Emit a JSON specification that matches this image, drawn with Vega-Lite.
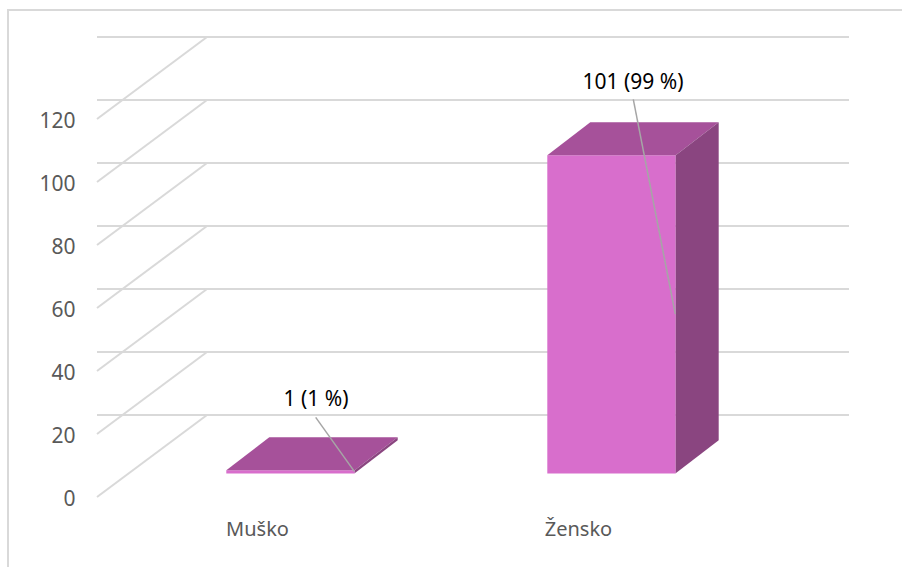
{
"$schema":"https://vega.github.io/schema/vega-lite/v6.json",
"width":642,"height":378,
"autosize":{"type":"none"},
"padding":{"left":97,"top":119,"right":163,"bottom":70},
"background":"white",
"config":{"view":{"stroke":null},"font":"Noto Sans"},
"datasets":{
"spol":[{"pol":"Muško","broj":1,"oznaka":"1 (1 %)"},{"pol":"Žensko","broj":101,"oznaka":"101 (99 %)"}],
"podjela":[{"t":0},{"t":20},{"t":40},{"t":60},{"t":80},{"t":100},{"t":120}]
},
"layer":[
{"data":{"name":"podjela"},
 "mark":{"type":"rule","stroke":"#D9D9D9","strokeWidth":2,"xOffset":110,"x2Offset":110,"yOffset":-82},
 "encoding":{"y":{"field":"t","type":"quantitative","scale":{"domain":[0,120],"nice":false},
   "axis":{"title":null,"ticks":false,"domain":false,"grid":false,"values":[0,20,40,60,80,100,120],"labelFontSize":21,"labelColor":"#595959","labelPadding":22,"labelOffset":2,"labelFont":"Noto Sans"}}}},
{"data":{"name":"podjela"},
 "mark":{"type":"point","shape":"M-160.5,0L-50.5,-82","size":4,"filled":false,"stroke":"#D9D9D9","strokeWidth":2,"opacity":1},
 "encoding":{"x":{"datum":"Muško","type":"nominal","scale":{"type":"band","domain":["Muško","Žensko"],"paddingInner":0.6,"paddingOuter":0.3},
   "axis":{"title":null,"ticks":false,"domain":false,"grid":false,"labelAngle":0,"labelFontSize":20,"labelColor":"#595959","labelPadding":22,"labelFont":"Noto Sans"}},
  "y":{"field":"t","type":"quantitative"}}},
{"data":{"name":"spol"},"transform":[{"filter":"datum.pol==='Muško'"}],
 "mark":{"type":"point","shape":"M-249.5,70L-249.5,-487L644.5,-487","size":4,"filled":false,"stroke":"#D9D9D9","strokeWidth":2,"opacity":1},
 "encoding":{"x":{"datum":"Muško","type":"nominal"},"y":{"datum":0,"type":"quantitative"}}},
{"data":{"name":"spol"},
 "mark":{"type":"bar","color":"#D86ECC","xOffset":33,"x2Offset":33,"yOffset":-23.5,"y2Offset":-23.5},
 "encoding":{"x":{"field":"pol","type":"nominal"},"y":{"field":"broj","type":"quantitative"}}},
{"data":{"name":"spol"},
 "mark":{"type":"point","shape":"M-64.2,0L64.2,0L107.2,-33L-21.2,-33Z","size":4,"filled":true,"color":"#A6519A","opacity":1,"strokeWidth":0,"xOffset":33,"yOffset":-23.5},
 "encoding":{"x":{"field":"pol","type":"nominal"},"y":{"field":"broj","type":"quantitative"}}},
{"data":{"name":"spol"},"transform":[{"filter":"datum.pol==='Žensko'"}],
 "mark":{"type":"point","shape":"M64.2,0L107.2,-33L107.2,285L64.2,318Z","size":4,"filled":true,"color":"#8A4580","opacity":1,"strokeWidth":0,"xOffset":33,"yOffset":-23.5},
 "encoding":{"x":{"field":"pol","type":"nominal"},"y":{"field":"broj","type":"quantitative"}}},
{"data":{"name":"spol"},"transform":[{"filter":"datum.pol==='Muško'"}],
 "mark":{"type":"point","shape":"M64.2,0L107.2,-33L107.2,-30L64.2,3Z","size":4,"filled":true,"color":"#8A4580","opacity":1,"strokeWidth":0,"xOffset":33,"yOffset":-23.5},
 "encoding":{"x":{"field":"pol","type":"nominal"},"y":{"field":"broj","type":"quantitative"}}},
{"data":{"name":"spol"},"transform":[{"filter":"datum.pol==='Žensko'"}],
 "mark":{"type":"point","shape":"M21.8,-56L63.8,158.7","size":4,"filled":false,"stroke":"#A6A6A6","strokeWidth":1.5,"opacity":1,"xOffset":33,"yOffset":-23.5},
 "encoding":{"x":{"field":"pol","type":"nominal"},"y":{"field":"broj","type":"quantitative"}}},
{"data":{"name":"spol"},"transform":[{"filter":"datum.pol==='Muško'"}],
 "mark":{"type":"point","shape":"M25.2,-53L63.8,1","size":4,"filled":false,"stroke":"#A6A6A6","strokeWidth":1.5,"opacity":1,"xOffset":33,"yOffset":-23.5},
 "encoding":{"x":{"field":"pol","type":"nominal"},"y":{"field":"broj","type":"quantitative"}}},
{"data":{"name":"spol"},"transform":[{"filter":"datum.pol==='Žensko'"}],
 "mark":{"type":"text","fontSize":21,"color":"#000000","font":"Noto Sans","baseline":"middle","align":"center","dx":54.5,"dy":-96},
 "encoding":{"x":{"field":"pol","type":"nominal"},"y":{"field":"broj","type":"quantitative"},"text":{"field":"oznaka","type":"nominal"}}},
{"data":{"name":"spol"},"transform":[{"filter":"datum.pol==='Muško'"}],
 "mark":{"type":"text","fontSize":21,"color":"#000000","font":"Noto Sans","baseline":"middle","align":"center","dx":58.5,"dy":-94},
 "encoding":{"x":{"field":"pol","type":"nominal"},"y":{"field":"broj","type":"quantitative"},"text":{"field":"oznaka","type":"nominal"}}}
]
}
